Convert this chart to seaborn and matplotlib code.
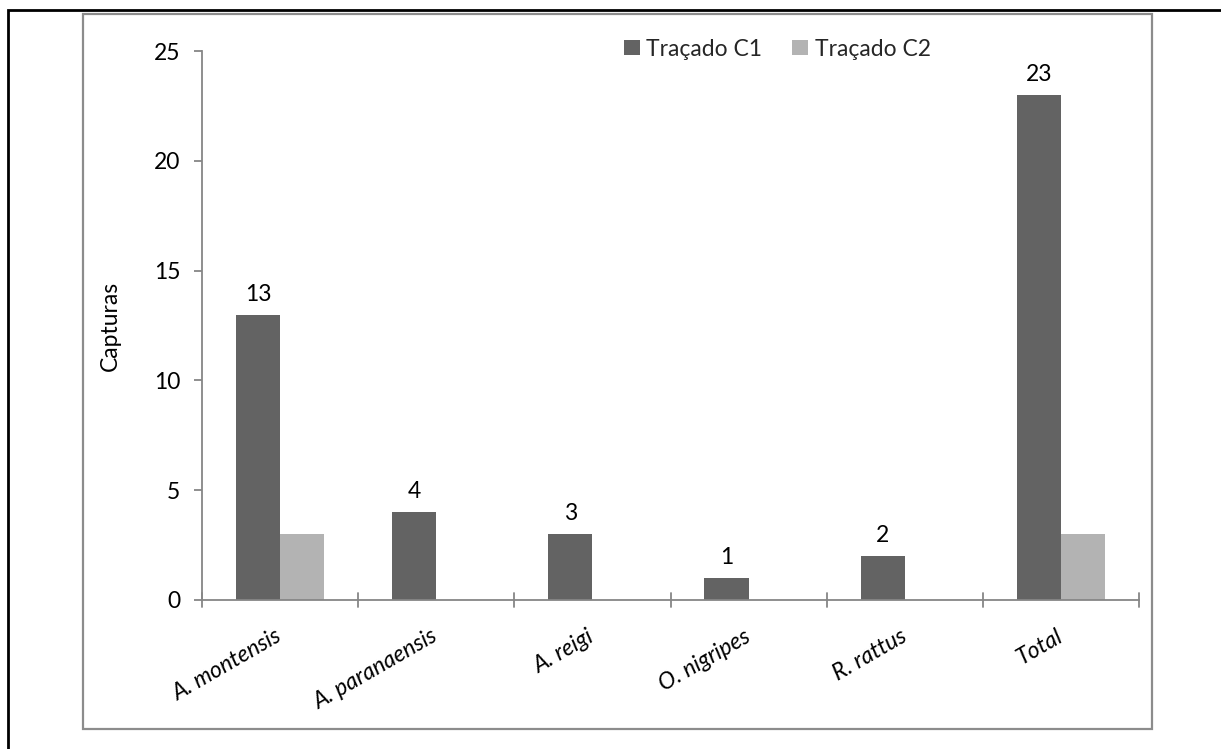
import matplotlib
matplotlib.use("Agg")
import matplotlib.pyplot as plt
from matplotlib.patches import Rectangle, Patch
from matplotlib.lines import Line2D
import seaborn as sns
import pandas as pd

# Captures per species along the two transects
species = ["A. montensis", "A. paranaensis", "A. reigi", "O. nigripes", "R. rattus", "Total"]
tracado_c1 = [13, 4, 3, 1, 2, 23]
tracado_c2 = [3, 0, 0, 0, 0, 3]
series_names = ["Traçado C1", "Traçado C2"]
y_ticks = [0, 5, 10, 15, 20, 25]

dark = "#636363"
light = "#b3b3b3"
axis_grey = "#868686"
FS = 16.5

sns.set_theme(style="white")
plt.rcParams["font.family"] = ["Lato", "DejaVu Sans"]

df = pd.DataFrame({
    "especie": species * 2,
    "capturas": tracado_c1 + tracado_c2,
    "tracado": [series_names[0]] * len(species) + [series_names[1]] * len(species),
})

W, H = 1221, 749
fig = plt.figure(figsize=(W / 100, H / 100), dpi=100)
ax = fig.add_axes([202 / W, 1 - 600 / H, (1139 - 202) / W, (600 - 51) / H])

sns.barplot(
    data=df, x="especie", y="capturas", hue="tracado",
    order=species, hue_order=series_names,
    palette=[dark, light], width=0.565, gap=0, saturation=1,
    legend=False, ax=ax, edgecolor="none", linewidth=0,
)

ax.set_ylim(0, 25)
ax.set_xlim(-0.5, len(species) - 0.5)
ax.set_yticks(y_ticks)
ax.set_yticklabels([str(t) for t in y_ticks], fontsize=FS, color="black")
ax.set_xlabel("")
ax.set_ylabel("Capturas", fontsize=FS, labelpad=24, color="black")

for side in ["top", "right"]:
    ax.spines[side].set_visible(False)
for side in ["left", "bottom"]:
    ax.spines[side].set_color(axis_grey)
    ax.spines[side].set_linewidth(1.3)

ax.tick_params(axis="y", direction="out", length=5.5, width=1.3, color=axis_grey, pad=10, left=True)
ax.tick_params(axis="x", bottom=False)

# category tick labels, italic and slanted
ax.set_xticks(range(len(species)))
ax.set_xticklabels(species, rotation=30, ha="right", va="center",
                   rotation_mode="anchor", fontsize=FS, style="italic", color="black")
ax.tick_params(axis="x", pad=19)

# boundary ticks crossing the category axis
for b in [i - 0.5 for i in range(len(species) + 1)]:
    ax.add_line(Line2D([b, b], [-0.32, 0.32], color=axis_grey, lw=1.3,
                       transform=ax.transData, clip_on=False))

# value labels over the first-transect bars
c1_bars = ax.containers[0]
for rect, val in zip(c1_bars, tracado_c1):
    ax.annotate(str(val), (rect.get_x() + rect.get_width() / 2, rect.get_height()),
                xytext=(0, 7), textcoords="offset points",
                ha="center", va="bottom", fontsize=FS, color="black")

handles = [Patch(facecolor=dark, edgecolor="none"), Patch(facecolor=light, edgecolor="none")]
fig.legend(handles, series_names, loc="center left",
           bbox_to_anchor=(624 / W, 1 - 49 / H), ncol=2, frameon=False,
           fontsize=FS, handlelength=0.68, handleheight=0.68,
           handletextpad=0.3, columnspacing=1.3, borderpad=0, borderaxespad=0)

# chart frame and page border
fig.add_artist(Rectangle((83 / W, 1 - 729 / H), (1152 - 83) / W, (729 - 14) / H,
                         transform=fig.transFigure, fill=False,
                         edgecolor="#8c8c8c", linewidth=1.6))
fig.add_artist(Rectangle((8 / W, -0.2), 1.3, 1.2 - 10 / H,
                         transform=fig.transFigure, fill=False,
                         edgecolor="black", linewidth=2))

fig.savefig("out.png", dpi=100, facecolor="white")
